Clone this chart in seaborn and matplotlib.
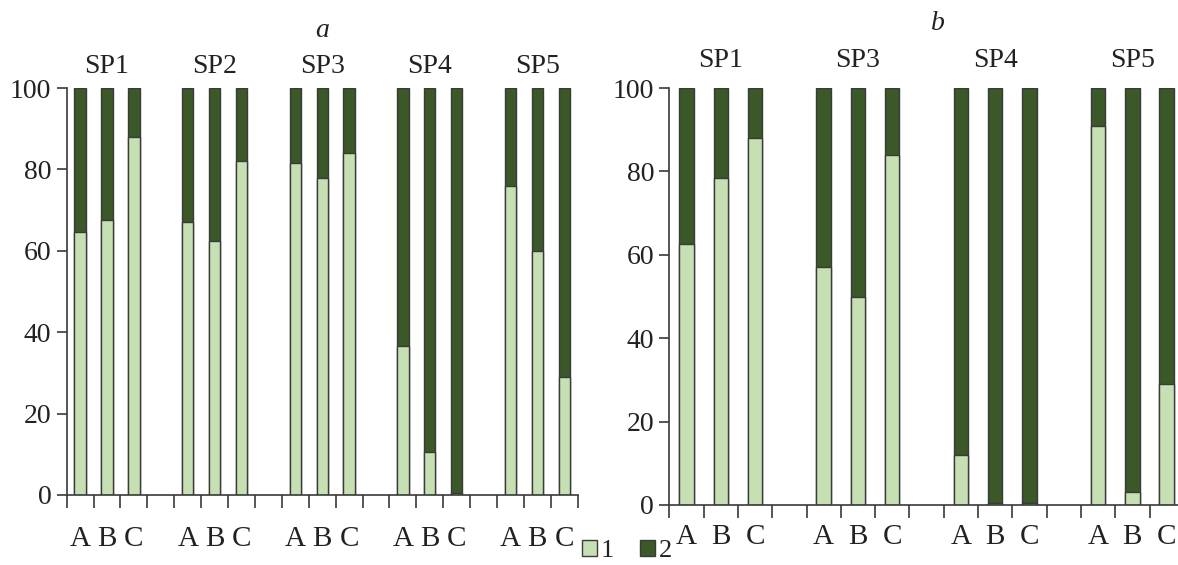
import numpy as np
import pandas as pd
import matplotlib
matplotlib.use("Agg")
import matplotlib.pyplot as plt
import seaborn as sns
from matplotlib.patches import Patch

# ---------------- data ----------------
sites = ["A", "B", "C"]
groups_a = ["SP1", "SP2", "SP3", "SP4", "SP5"]
share1_a = [
    [64.5, 67.5, 88.0],
    [67.0, 62.5, 82.0],
    [81.5, 78.0, 84.0],
    [36.5, 10.5, 0.5],
    [76.0, 60.0, 29.0],
]
groups_b = ["SP1", "SP3", "SP4", "SP5"]
share1_b = [
    [62.5, 78.5, 88.0],
    [57.0, 50.0, 84.0],
    [12.0, 0.5, 0.5],
    [91.0, 3.0, 29.0],
]
total = 100.0
legend_labels = ["1", "2"]
yticks = [0, 20, 40, 60, 80, 100]

light = "#c6e0b4"
dark = "#3b5829"
edge = "#3a3a3a"
txt = "#222222"
FS = 20

sns.set_style("ticks")
plt.rcParams["font.family"] = ["Liberation Serif", "DejaVu Serif"]
plt.rcParams["axes.edgecolor"] = edge
plt.rcParams["axes.linewidth"] = 1.2
plt.rcParams["text.color"] = txt
plt.rcParams["xtick.color"] = edge
plt.rcParams["ytick.color"] = edge
plt.rcParams["xtick.labelcolor"] = txt
plt.rcParams["ytick.labelcolor"] = txt

fig = plt.figure(figsize=(11.78, 5.65), dpi=100)


def build(groups, shares):
    rows, order = [], []
    for gi, g in enumerate(groups):
        for si, s in enumerate(sites):
            key = f"{g}-{s}"
            rows.append({"key": key, "group": g, "site": s,
                         "share1": shares[gi][si], "total": total})
            order.append(key)
        if gi < len(groups) - 1:
            order.append(f"gap{gi}")
    return pd.DataFrame(rows), order


def panel(ax, groups, shares, label_pad, sp_y, nslots):
    df, order = build(groups, shares)
    sns.barplot(data=df, x="key", y="total", order=order, color=dark,
                saturation=1, width=0.42, edgecolor=edge, linewidth=1.0,
                ax=ax, errorbar=None)
    sns.barplot(data=df, x="key", y="share1", order=order, color=light,
                saturation=1, width=0.42, edgecolor=edge, linewidth=1.0,
                ax=ax, errorbar=None)
    ax.set_xlim(-0.5, nslots - 0.5)
    ax.set_ylim(0, 100)
    ax.set_xlabel("")
    ax.set_ylabel("")
    ax.set_xticks(np.arange(-0.5, nslots, 1.0))
    ax.set_xticklabels([])
    pos = [i for i, k in enumerate(order) if not k.startswith("gap")]
    labs = [k.split("-")[1] for k in order if not k.startswith("gap")]
    ax.set_xticks(pos, minor=True)
    ax.set_xticklabels(labs, minor=True, fontsize=FS + 1)
    ax.tick_params(axis="x", which="major", length=9, width=1.2,
                   direction="out")
    ax.tick_params(axis="x", which="minor", length=0, pad=label_pad)
    ax.set_yticks(yticks)
    ax.set_yticklabels([str(v) for v in yticks], fontsize=FS)
    ax.tick_params(axis="y", length=7, width=1.2, pad=4)
    sns.despine(ax=ax)
    tr = ax.get_xaxis_transform()
    for gi, g in enumerate(groups):
        ax.text(gi * 4 + 1, sp_y, g, transform=tr, ha="center",
                va="baseline", fontsize=FS)


ax_a = fig.add_axes([66.7 / 1178, 70 / 565, 511 / 1178, 407 / 565])
panel(ax_a, groups_a, share1_a, label_pad=22, sp_y=1.037, nslots=19)

ax_b = fig.add_axes([669.3 / 1178, 60 / 565, 514.5 / 1178, 417 / 565])
panel(ax_b, groups_b, share1_b, label_pad=14, sp_y=1.05, nslots=15)

fig.text(322 / 1178, 1 - 37 / 565, "a", fontsize=FS, style="italic",
         ha="center", va="baseline")
fig.text(938 / 1178, 1 - 30 / 565, "b", fontsize=FS, style="italic",
         ha="center", va="baseline")

handles = [Patch(facecolor=light, edgecolor=edge, linewidth=1.0),
           Patch(facecolor=dark, edgecolor=edge, linewidth=1.0)]
fig.legend(handles, legend_labels, loc="center", ncol=2,
           bbox_to_anchor=(627 / 1178, 1 - 551 / 565), frameon=False,
           fontsize=FS - 1, handlelength=0.55, handleheight=0.6,
           handletextpad=0.15, columnspacing=1.0, borderpad=0)

fig.savefig("out.png", dpi=100)
